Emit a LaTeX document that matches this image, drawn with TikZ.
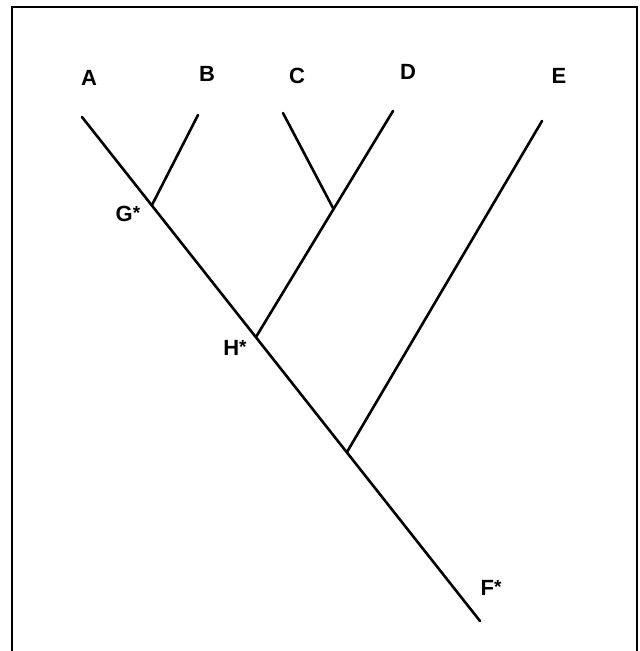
\documentclass[tikz,border=0pt]{standalone}
\usepackage{fontspec}
\setmainfont{Liberation Sans}
\newcommand{\starmark}{\raisebox{0.12em}{\fontsize{19}{19}\selectfont *}}
\begin{document}
\begin{tikzpicture}[x=1pt,y=-1pt,
  branch/.style={line width=2.6pt,line cap=round},
  lab/.style={font=\fontsize{22}{24}\selectfont\bfseries,inner sep=0pt}]
\useasboundingbox (0,0) rectangle (640,651);
\begin{scope}
\clip (0,0) rectangle (640,651);
\draw[line width=2.8pt] (12,7) rectangle (637,670);
\end{scope}
% tips
\coordinate (tA) at (82,117);
\coordinate (tB) at (198,115);
\coordinate (tC) at (283,113);
\coordinate (tD) at (393,111);
\coordinate (tE) at (542,121);
\coordinate (tF) at (480,621);
% junctions
\coordinate (G) at (152,205);
\coordinate (CD) at (333,208);
\coordinate (H) at (256,337);
\coordinate (J) at (347,452);
% branches
\draw[branch] (tA) -- (tF);
\draw[branch] (tB) -- (G);
\draw[branch] (tC) -- (CD);
\draw[branch] (tD) -- (H);
\draw[branch] (tE) -- (J);
% labels
\node[lab] (lA) at (89,78) {A};
\node[lab] (lB) at (207,74) {B};
\node[lab] (lC) at (297,76) {C};
\node[lab] (lD) at (408,72) {D};
\node[lab] (lE) at (559,76) {E};
\node[lab] (lG) at (128,214) {G\starmark};
\node[lab] (lH) at (235,348) {H\starmark};
\node[lab] (lF) at (491,588) {F\starmark};
\end{tikzpicture}
\end{document}
